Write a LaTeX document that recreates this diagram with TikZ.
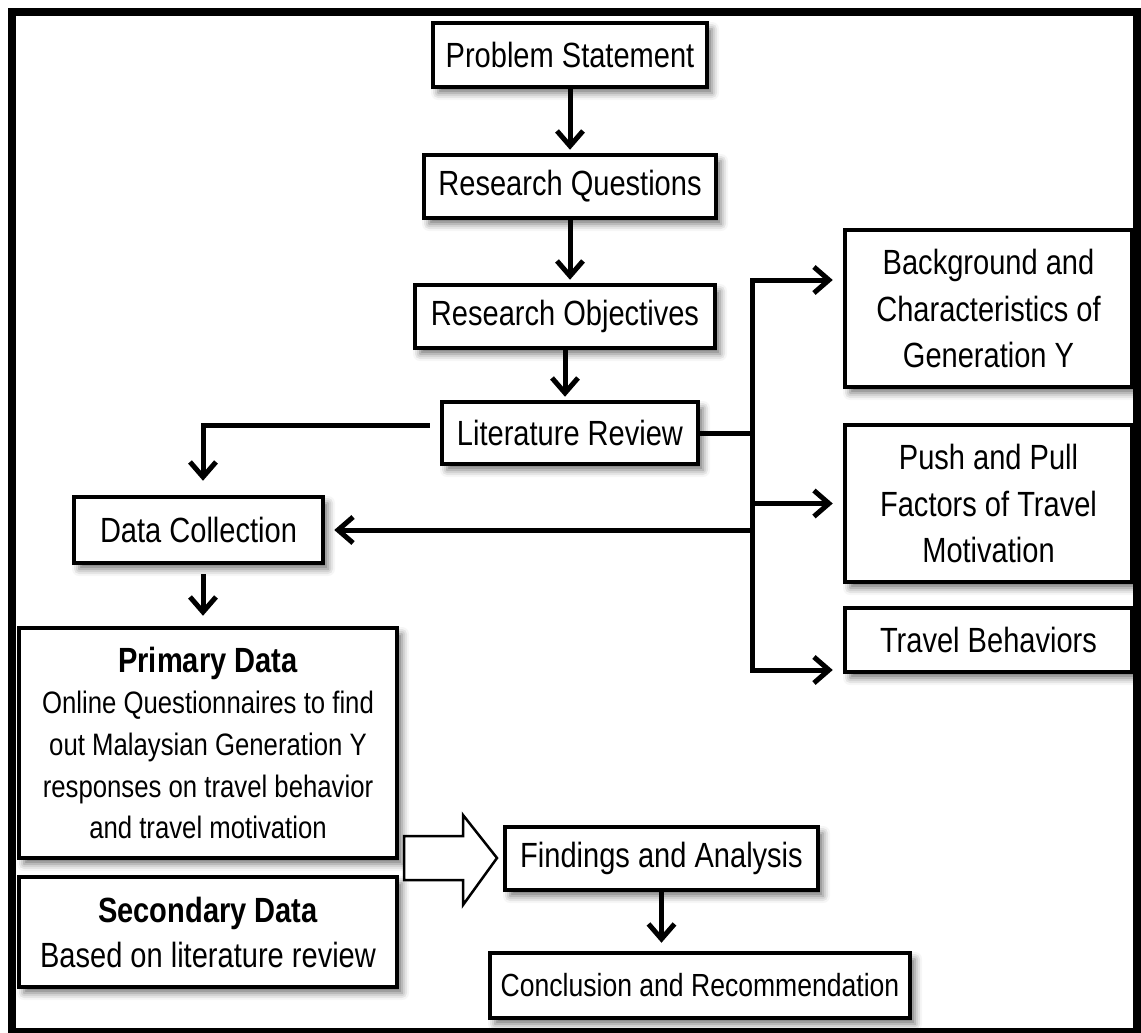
\documentclass[tikz,border=0pt]{standalone}
\usepackage{xcolor}
\usepackage{fontspec}
\setmainfont{Liberation Sans}[FakeStretch=0.83]
\usepackage{tikz}
\usetikzlibrary{arrows.meta,shadows.blur}

\tikzset{
    box/.style={draw, line width=4.5pt, fill=white, inner sep=0pt, align=center,
        blur shadow={shadow xshift=5pt, shadow yshift=-6pt, shadow blur radius=7pt, shadow opacity=55}},
    link/.style={line width=5pt},
    arr/.style={link, -{Straight Barb[length=15pt, width=26pt, line width=5pt]}}
}

\begin{document}
\begin{tikzpicture}[x=1pt, y=-1pt, font=\fontsize{35}{42}\selectfont]
    \useasboundingbox (0,0) rectangle (1141,1033);

    % Draw the frame
    \draw[line width=8pt] (12,12) rectangle (1137,1032);

    % Main column
    \node[box, minimum width=274, minimum height=64] (ps) at (570,55) {Problem Statement};
    \node[box, minimum width=292, minimum height=63] (rq) at (570,186.5) {Research Questions};
    \node[box, minimum width=300, minimum height=63] (ro) at (565,316.5) {Research Objectives};
    \node[box, minimum width=256, minimum height=62] (lr) at (570,433) {Literature Review};

    % Right column
    \node[box, minimum width=287, minimum height=157, font=\fontsize{35}{46.5}\selectfont] (bg) at (988.5,308.5)
        {Background and\\Characteristics of\\Generation Y};
    \node[box, minimum width=287, minimum height=157, font=\fontsize{35}{46.5}\selectfont] (pp) at (988.5,503.5)
        {Push and Pull\\Factors of Travel\\Motivation};
    \node[box, minimum width=287, minimum height=64] (tb) at (988.5,640) {Travel Behaviors};

    % Left column
    \node[box, minimum width=249, minimum height=66] (dc) at (198.5,530) {Data Collection};
    \node[box, minimum width=378, minimum height=230, font=\fontsize{31}{41.7}\selectfont] (pd) at (208,743)
        {{\fontsize{35}{41.7}\selectfont\textbf{Primary Data}}\\Online Questionnaires to find\\out Malaysian Generation Y\\responses on travel behavior\\and travel motivation};
    \node[box, minimum width=378, minimum height=110, font=\fontsize{35}{45}\selectfont] (sd) at (208,932)
        {\textbf{Secondary Data}\\Based on literature review};

    % Bottom
    \node[box, minimum width=313, minimum height=63] (fa) at (661.5,858.5) {Findings and Analysis};
    \node[box, minimum width=420, minimum height=65, font=\fontsize{32}{40}\selectfont] (cr) at (700,985.5)
        {Conclusion and Recommendation};

    % Down the main column
    \draw[arr, shorten >=3pt] (ps) -- (rq);
    \draw[arr, shorten >=3pt] (rq.south -| ps) -- (ro.north -| ps);
    \draw[arr, shorten >=3pt] (ro) -- (ro |- lr.north);

    % Branches to the right
    \coordinate (jt) at (752,280);
    \coordinate (jb) at (752,670);
    \draw[link] (lr.east) -- (lr.east -| jt);
    \draw[link, line cap=rect] (jt) -- (jb);
    \draw[arr, shorten >=10pt] (jt) -- (jt -| bg.west);
    \draw[arr, shorten >=10pt] (pp.west -| jt) -- (pp.west);
    \draw[arr, shorten >=10pt] (jb) -- (jb -| tb.west);
    \draw[arr, shorten >=9pt] (dc.east -| jt) -- (dc.east);

    % Down to data collection
    \coordinate (lrl) at (203,425);
    \draw[arr, shorten <=10pt, shorten >=14pt] (lr.west |- lrl) -- (lrl) -- (lrl |- dc.north);
    \draw[arr, shorten <=9pt, shorten >=10pt] (dc.south -| lrl) -- (pd.north -| lrl);

    % Big arrow to findings
    \draw[line width=2.5pt, fill=white, line join=miter]
        (404,836) -- (463,836) -- (463,815) -- (497,858) -- (463,905) -- (463,880) -- (404,880) -- cycle;

    \draw[arr, shorten >=8pt] (fa) -- (fa |- cr.north);
\end{tikzpicture}
\end{document}
